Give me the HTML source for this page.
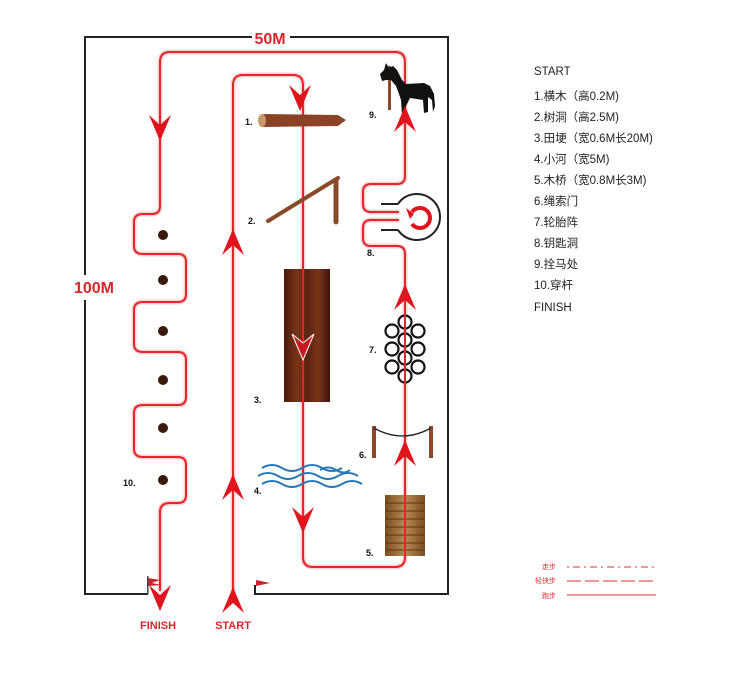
<!DOCTYPE html>
<html><head><meta charset="utf-8"><style>
body{margin:0;background:#fff;width:750px;height:673px;overflow:hidden}
svg{display:block}
.lg{font-family:"Liberation Sans","Noto Sans CJK SC",sans-serif;font-size:11.5px;fill:#222}
.lb{font-family:"Liberation Sans",sans-serif;font-size:9px;font-weight:bold;fill:#111}
.rt{font-family:"Liberation Sans",sans-serif;font-weight:bold;fill:#d8262b}
.sm{font-family:"Liberation Sans","Noto Sans CJK SC",sans-serif;font-size:7px;fill:#d83030}
</style></head><body>
<svg width="750" height="673" viewBox="0 0 750 673" xmlns="http://www.w3.org/2000/svg">
<defs>
<g id="ch"><path d="M-11,-15 L0,11 L11,-15 L0,-5 Z" fill="#e0141c"/></g>
<linearGradient id="lg3" x1="0" x2="1"><stop offset="0" stop-color="#4a1a0e"/><stop offset=".3" stop-color="#7a3418"/><stop offset=".5" stop-color="#5a2210"/><stop offset=".75" stop-color="#7a3418"/><stop offset="1" stop-color="#3e140a"/></linearGradient>
<linearGradient id="wd" x1="0" x2="1"><stop offset="0" stop-color="#7a4d22"/><stop offset=".5" stop-color="#b98a52"/><stop offset="1" stop-color="#7a4d22"/></linearGradient>
</defs>
<path d="M148,594 L85,594 L85,300 M85,275 L85,37 L252,37 M290,37 L448,37 L448,594 L255,594 L255,585" fill="none" stroke="#222" stroke-width="2"/>
<text x="270" y="44" text-anchor="middle" class="rt" font-size="16">50M</text>
<text x="94" y="293" text-anchor="middle" class="rt" font-size="16">100M</text>

<g fill="none" stroke-linejoin="round" stroke-linecap="round">
<g stroke="#f9d2d2" stroke-width="5">
<path id="p1" d="M160,590 L160,512 Q160,503 170,503 L178,503 Q186,503 186,495 L186,465 Q186,457 178,457 L143,457 Q134,457 134,449 L134,413 Q134,405 143,405 L178,405 Q186,405 186,397 L186,360 Q186,352 178,352 L143,352 Q134,352 134,344 L134,310 Q134,302 143,302 L178,302 Q186,302 186,294 L186,262 Q186,254 178,254 L143,254 Q134,254 134,246 L134,222 Q134,214 143,214 L152,214 Q160,214 160,206 L160,62 Q160,52 170,52 L395,52 Q405,52 405,62 L405,176 Q405,184 397,184 L371,184 Q363,184 363,192 L363,204 Q363,212 371,212 L398,212"/>
<path id="p2" d="M398,220 L371,220 Q363,220 363,228 L363,238 Q363,246 371,246 L397,246 Q405,246 405,254 L405,557 Q405,567 395,567 L313,567 Q303,567 303,557 L303,85 Q303,75 293,75 L243,75 Q233,75 233,85 L233,590"/>
</g>
<g stroke="#e2262b" stroke-width="2"><use href="#p1"/><use href="#p2"/></g>
</g>

<g fill="#3a1a0c"><circle cx="163" cy="235" r="5"/><circle cx="163" cy="280" r="5"/><circle cx="163" cy="331" r="5"/><circle cx="163" cy="380" r="5"/><circle cx="163" cy="428" r="5"/><circle cx="163" cy="480" r="5"/></g>

<path d="M262,114 L338,115 L346,120 L338,126 L262,127 Z" fill="#8a4326"/>
<ellipse cx="262" cy="120.5" rx="4" ry="6.5" fill="#c89a6a"/>
<line x1="268" y1="221" x2="338" y2="178" stroke="#8a4a2a" stroke-width="4" stroke-linecap="round"/>
<line x1="336" y1="180" x2="336" y2="222" stroke="#8a4a2a" stroke-width="5" stroke-linecap="round"/>
<rect x="284" y="269" width="46" height="133" fill="url(#lg3)"/>
<line x1="303" y1="269" x2="303" y2="402" stroke="#e2262b" stroke-width="2"/>
<g fill="none" stroke="#2a7ab8" stroke-width="2">
<path d="M262,468 q10,-6 20,0 t20,0 t20,0 t20,0"/>
<path d="M258,476 q10,-6 20,0 t20,0 t20,0 t20,0 t20,0"/>
<path d="M262,484 q10,-6 20,0 t20,0 t20,0 t20,0 t20,0"/>
<path d="M320,470 q8,-5 16,0 t14,0" />
</g>
<rect x="385" y="495" width="40" height="61" fill="url(#wd)"/>
<g stroke="#5a3515" stroke-width="1"><line x1="385" y1="503" x2="425" y2="503"/><line x1="385" y1="511" x2="425" y2="511"/><line x1="385" y1="519" x2="425" y2="519"/><line x1="385" y1="527" x2="425" y2="527"/><line x1="385" y1="535" x2="425" y2="535"/><line x1="385" y1="543" x2="425" y2="543"/><line x1="385" y1="550" x2="425" y2="550"/></g>
<line x1="405" y1="495" x2="405" y2="556" stroke="#e2262b" stroke-width="2"/>
<rect x="372" y="426" width="4" height="32" fill="#8a4a2a"/><rect x="429" y="426" width="4" height="32" fill="#8a4a2a"/>
<path d="M374,428 Q402,444 431,428" fill="none" stroke="#222" stroke-width="1.3"/>
<g fill="#fff" stroke="#111" stroke-width="2.2">
<circle cx="392" cy="331" r="6.5"/><circle cx="418" cy="331" r="6.5"/>
<circle cx="392" cy="349" r="6.5"/><circle cx="418" cy="349" r="6.5"/>
<circle cx="392" cy="367" r="6.5"/><circle cx="418" cy="367" r="6.5"/>
<circle cx="405" cy="322" r="6.5"/><circle cx="405" cy="340" r="6.5"/><circle cx="405" cy="358" r="6.5"/><circle cx="405" cy="376" r="6.5"/>
</g>
<line x1="405" y1="314" x2="405" y2="385" stroke="#e2262b" stroke-width="2"/>
<path d="M398,204 L381,204 M398,230 L381,230" stroke="#222" stroke-width="2"/>
<path d="M398,204 A23,23 0 1 1 398,230" fill="none" stroke="#222" stroke-width="2"/>
<path d="M412,212 A10,10 0 1 1 412,224" fill="none" stroke="#e0141c" stroke-width="4"/>
<path d="M406,208 L414,214 L410,219 Z" fill="#e0141c"/>
<!-- horse -->
<rect x="388" y="66" width="3" height="44" fill="#8a4a2a"/>
<path d="M380,74 L384,70 L386,63 L389,68 L393,66 L397,70 L402,80 L406,84 L424,83 L430,86 L434,94 L435,106 L433,112 L432,100 L428,97 L428,112 L424,113 L423,100 L410,98 L406,106 L406,115 L402,115 L401,100 L399,94 L396,86 L391,80 L386,80 L382,81 Z" fill="#111"/>

<use href="#ch" transform="translate(160,130)"/>
<use href="#ch" transform="translate(300,100)"/>
<use href="#ch" transform="translate(405,117) rotate(180)"/>
<use href="#ch" transform="translate(233,240) rotate(180)"/>
<use href="#ch" transform="translate(233,485) rotate(180)"/>
<use href="#ch" transform="translate(405,295) rotate(180)"/>
<use href="#ch" transform="translate(405,451) rotate(180)"/>
<path d="M292,334 L303,360 L314,334 L303,343 Z" fill="#c81a1e" stroke="#fff" stroke-width="1"/>
<use href="#ch" transform="translate(303,522)"/>
<use href="#ch" transform="translate(160,600)"/>
<use href="#ch" transform="translate(233,598) rotate(180)"/>
<path d="M148,578 L160,580 L152,583 L162,585 L148,586 Z" fill="#c8262b"/><rect x="147" y="576" width="1.5" height="18" fill="#444"/>
<path d="M256,580 L270,583 L256,586 Z" fill="#c8262b"/>

<text x="158" y="629" text-anchor="middle" class="rt" font-size="11">FINISH</text>
<text x="233" y="629" text-anchor="middle" class="rt" font-size="11">START</text>

<text x="245" y="125" class="lb">1.</text>
<text x="248" y="224" class="lb">2.</text>
<text x="254" y="403" class="lb">3.</text>
<text x="254" y="494" class="lb">4.</text>
<text x="366" y="556" class="lb">5.</text>
<text x="359" y="458" class="lb">6.</text>
<text x="369" y="353" class="lb">7.</text>
<text x="367" y="256" class="lb">8.</text>
<text x="369" y="118" class="lb">9.</text>
<text x="123" y="486" class="lb">10.</text>

<g class="lg">
<text x="534" y="75">START</text>
<text x="534" y="100">1.横木（高0.2M)</text>
<text x="534" y="121">2.树洞（高2.5M)</text>
<text x="534" y="142">3.田埂（宽0.6M长20M)</text>
<text x="534" y="163">4.小河（宽5M)</text>
<text x="534" y="184">5.木桥（宽0.8M长3M)</text>
<text x="534" y="205">6.绳索门</text>
<text x="534" y="226">7.轮胎阵</text>
<text x="534" y="247">8.钥匙洞</text>
<text x="534" y="268">9.拴马处</text>
<text x="534" y="289">10.穿杆</text>
<text x="534" y="311">FINISH</text>
</g>
<text x="542" y="569" class="sm">走步</text>
<text x="535" y="583" class="sm">轻快步</text>
<text x="542" y="598" class="sm">跑步</text>
<line x1="567" y1="567" x2="656" y2="567" stroke="#d83030" stroke-width="1" stroke-dasharray="2,4,7,4"/>
<line x1="567" y1="581" x2="656" y2="581" stroke="#d83030" stroke-width="1" stroke-dasharray="14,4"/>
<line x1="567" y1="595" x2="656" y2="595" stroke="#d83030" stroke-width="1"/>
</svg>
</body></html>
